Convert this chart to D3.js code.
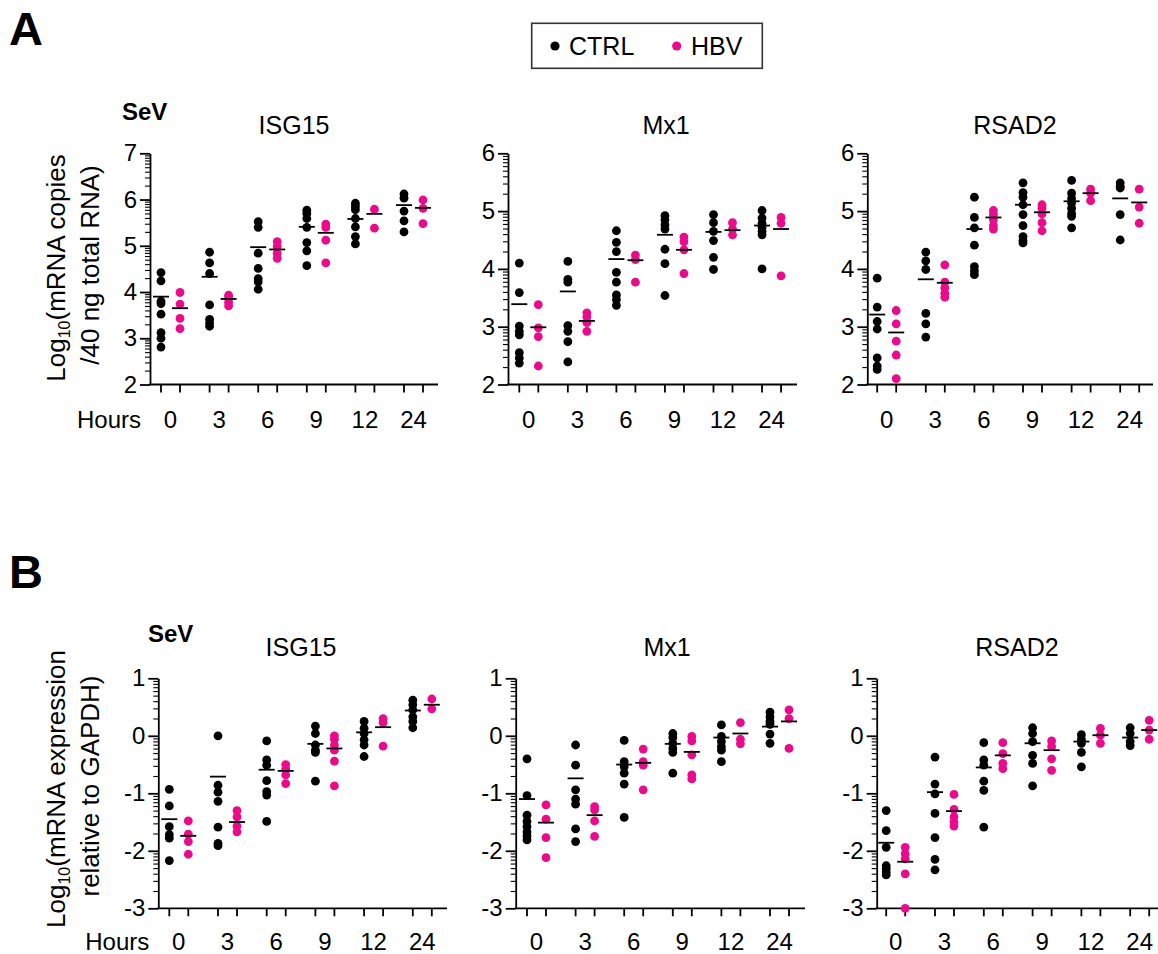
<!DOCTYPE html>
<html>
<head>
<meta charset="utf-8">
<script src="https://cdn.jsdelivr.net/npm/d3@7"></script>
<style>
  html, body { margin: 0; padding: 0; background: #fff; }
  svg { display: block; font-family: "Liberation Sans", Arial, sans-serif; }
</style>
</head>
<body>
<svg id="fig" width="1158" height="954"></svg>
<script>
// Time points (hours after SeV infection)
const hours = ["0", "3", "6", "9", "12", "24"];
const seriesNames = ["CTRL", "HBV"];

// ---- A: log10 mRNA copies / 40 ng total RNA ----
const aIsg15Ctrl = [
  [4.42, 4.24, 3.80, 3.75, 3.52, 3.12, 3.00, 2.81],
  [4.86, 4.63, 4.40, 3.72, 3.41, 3.33, 3.26],
  [5.52, 5.40, 4.84, 4.51, 4.29, 4.22, 4.06],
  [5.77, 5.70, 5.59, 5.40, 5.07, 4.89, 4.57],
  [5.92, 5.85, 5.78, 5.59, 5.41, 5.20, 5.04],
  [6.12, 6.03, 5.75, 5.54, 5.30]
];
const aIsg15Hbv = [
  [3.99, 3.74, 3.43, 3.21],
  [3.93, 3.88, 3.78, 3.70],
  [5.09, 4.98, 4.84, 4.73],
  [5.47, 5.40, 5.12, 4.63],
  [5.79, 5.38],
  [5.99, 5.81, 5.48]
];
const aIsg15CtrlMean = [3.90, 4.33, 4.97, 5.41, 5.58, 5.88];
const aIsg15HbvMean = [3.65, 3.85, 4.92, 5.28, 5.69, 5.82];

const aMx1Ctrl = [
  [4.10, 3.59, 3.01, 2.92, 2.86, 2.55, 2.46, 2.37],
  [4.13, 3.82, 3.77, 3.02, 2.92, 2.74, 2.39],
  [4.66, 4.46, 4.30, 3.94, 3.77, 3.55, 3.47, 3.37],
  [4.92, 4.85, 4.76, 4.69, 4.34, 4.09, 3.54],
  [4.94, 4.80, 4.65, 4.49, 4.20, 3.99],
  [5.01, 4.88, 4.79, 4.72, 4.65, 4.59, 4.00]
];
const aMx1Hbv = [
  [3.38, 2.98, 2.83, 2.32],
  [3.24, 3.17, 3.07, 2.92],
  [4.24, 4.16, 3.77],
  [4.55, 4.47, 4.33, 3.92],
  [4.80, 4.69, 4.59],
  [4.89, 4.79, 3.88]
];
const aMx1CtrlMean = [3.39, 3.61, 4.17, 4.59, 4.64, 4.75];
const aMx1HbvMean = [2.99, 3.10, 4.15, 4.33, 4.67, 4.69];

const aRsad2Ctrl = [
  [3.84, 3.34, 3.09, 2.96, 2.46, 2.32, 2.26],
  [4.29, 4.14, 3.99, 3.23, 3.05, 2.82],
  [5.24, 4.89, 4.71, 4.41, 4.04, 3.97, 3.90],
  [5.49, 5.32, 5.24, 5.11, 4.94, 4.75, 4.56, 4.49, 4.45],
  [5.53, 5.31, 5.22, 5.14, 5.05, 4.96, 4.91, 4.71],
  [5.49, 5.43, 5.40, 4.94, 4.50]
];
const aRsad2Hbv = [
  [3.28, 3.05, 2.75, 2.51, 2.10],
  [4.07, 3.77, 3.67, 3.58, 3.51],
  [5.01, 4.94, 4.85, 4.75, 4.69],
  [5.11, 5.05, 4.95, 4.80, 4.66],
  [5.38, 5.31, 5.18],
  [5.38, 5.07, 4.79]
];
const aRsad2CtrlMean = [3.21, 3.82, 4.69, 5.11, 5.17, 5.22];
const aRsad2HbvMean = [2.90, 3.76, 4.89, 4.98, 5.31, 5.15];

// ---- B: log10 mRNA expression relative to GAPDH ----
const bIsg15Ctrl = [
  [-0.93, -1.22, -1.58, -1.72, -1.78, -2.17],
  [0.00, -0.86, -0.98, -1.14, -1.59, -1.87, -1.91],
  [-0.09, -0.42, -0.51, -0.78, -0.97, -1.03, -1.49],
  [0.17, 0.04, -0.16, -0.25, -0.29, -0.79],
  [0.25, 0.13, 0.04, -0.07, -0.16, -0.36],
  [0.62, 0.54, 0.45, 0.33, 0.25, 0.14]
];
const bIsg15Hbv = [
  [-1.48, -1.71, -1.84, -2.06],
  [-1.30, -1.41, -1.57, -1.67],
  [-0.50, -0.58, -0.68, -0.83],
  [0.00, -0.06, -0.16, -0.25, -0.44, -0.87],
  [0.30, 0.23, -0.18],
  [0.64, 0.47]
];
const bIsg15CtrlMean = [-1.45, -0.71, -0.59, -0.14, 0.06, 0.44];
const bIsg15HbvMean = [-1.74, -1.50, -0.61, -0.22, 0.15, 0.54];

const bMx1Ctrl = [
  [-0.40, -1.04, -1.38, -1.49, -1.58, -1.67, -1.74, -1.81],
  [-0.16, -0.51, -0.94, -1.10, -1.19, -1.62, -1.84],
  [-0.08, -0.45, -0.54, -0.65, -0.84, -1.42],
  [0.04, -0.03, -0.13, -0.22, -0.29, -0.65],
  [0.19, -0.01, -0.10, -0.19, -0.25, -0.45],
  [0.41, 0.33, 0.25, 0.20, 0.03, -0.13]
];
const bMx1Hbv = [
  [-1.20, -1.45, -1.77, -2.12],
  [-1.23, -1.29, -1.48, -1.75],
  [-0.23, -0.45, -0.51, -0.94],
  [-0.01, -0.09, -0.33, -0.68, -0.75],
  [0.23, -0.06, -0.14],
  [0.45, 0.30, -0.22]
];
const bMx1CtrlMean = [-1.10, -0.74, -0.50, -0.14, -0.03, 0.16];
const bMx1HbvMean = [-1.51, -1.38, -0.47, -0.28, 0.04, 0.25];

const bRsad2Ctrl = [
  [-1.30, -1.65, -1.94, -2.26, -2.31, -2.37, -2.42],
  [-0.37, -0.84, -1.01, -1.35, -1.77, -2.15, -2.33],
  [-0.12, -0.42, -0.51, -0.79, -0.95, -1.59],
  [0.14, 0.04, -0.10, -0.34, -0.48, -0.87],
  [0.02, -0.06, -0.13, -0.29, -0.54],
  [0.14, 0.04, -0.10, -0.17]
];
const bRsad2Hbv = [
  [-1.94, -2.05, -2.14, -2.40, -3.00],
  [-1.02, -1.28, -1.41, -1.50, -1.57],
  [-0.12, -0.31, -0.48, -0.57],
  [-0.09, -0.19, -0.40, -0.60],
  [0.13, 0.01, -0.13],
  [0.27, 0.10, -0.06]
];
const bRsad2CtrlMean = [-1.86, -0.98, -0.55, -0.13, -0.10, -0.03];
const bRsad2HbvMean = [-2.19, -1.31, -0.34, -0.25, 0.01, 0.10];

const genes = ["ISG15", "Mx1", "RSAD2"];
const aDomains = [[2, 7], [2, 6], [2, 6]];
const bDomains = [[-3, 1], [-3, 1], [-3, 1]];

// ---- styling ----
const COLORS = { CTRL: "#000000", HBV: "#ec0a8c" };
const FONT = 24;
const TITLE_FONT = 25;
const YTITLE_FONT = 26;
const DOT_R = 4.4;
const AXIS_W = 1.8;

const svg = d3.select("#fig");

// Panel geometry (axis position, first group centre, group step, axis end, title centre)
const panels = [
  { row: "A", gi: 0, ctrl: aIsg15Ctrl, hbv: aIsg15Hbv, cm: aIsg15CtrlMean, hm: aIsg15HbvMean, dom: aDomains[0],
    ax: 150, first: 170.5, step: 48.6, end: 438, tx: 294, showHours: true },
  { row: "A", gi: 1, ctrl: aMx1Ctrl, hbv: aMx1Hbv, cm: aMx1CtrlMean, hm: aMx1HbvMean, dom: aDomains[1],
    ax: 508, first: 528.8, step: 48.55, end: 797, tx: 666, showHours: false },
  { row: "A", gi: 2, ctrl: aRsad2Ctrl, hbv: aRsad2Hbv, cm: aRsad2CtrlMean, hm: aRsad2HbvMean, dom: aDomains[2],
    ax: 867.3, first: 886.7, step: 48.6, end: 1153, tx: 1015, showHours: false },
  { row: "B", gi: 0, ctrl: bIsg15Ctrl, hbv: bIsg15Hbv, cm: bIsg15CtrlMean, hm: bIsg15HbvMean, dom: bDomains[0],
    ax: 158.3, first: 178.8, step: 48.7, end: 447, tx: 301, showHours: true },
  { row: "B", gi: 1, ctrl: bMx1Ctrl, hbv: bMx1Hbv, cm: bMx1CtrlMean, hm: bMx1HbvMean, dom: bDomains[1],
    ax: 515.7, first: 536.5, step: 48.6, end: 805, tx: 667, showHours: false },
  { row: "B", gi: 2, ctrl: bRsad2Ctrl, hbv: bRsad2Hbv, cm: bRsad2CtrlMean, hm: bRsad2HbvMean, dom: bDomains[2],
    ax: 876.7, first: 895.7, step: 48.8, end: 1165, tx: 1017, showHours: false }
];

const rows = {
  A: { top: 153.3, bottom: 384.5, titleY: 134, hoursY: 428 },
  B: { top: 678.3, bottom: 908.3, titleY: 656, hoursY: 950 }
};

const PAIR = 9.5; // half distance between CTRL and HBV columns

panels.forEach(p => {
  const r = rows[p.row];
  const y = d3.scaleLinear().domain(p.dom).range([r.bottom, r.top]);
  const x = d3.scalePoint().domain(hours).range([p.first, p.first + 5 * p.step]);
  const sx = d3.scaleOrdinal().domain(seriesNames).range([-PAIR, PAIR]);
  const g = svg.append("g");

  // y-axis: major ticks at integers, minor ticks at log10(2..9) inside each decade
  const majors = d3.range(p.dom[0], p.dom[1] + 1);
  const minors = [];
  for (let n = p.dom[0]; n < p.dom[1]; n++) {
    for (let k = 2; k <= 9; k++) minors.push(n + Math.log10(k));
  }
  const yMinor = g.append("g").attr("transform", `translate(${p.ax},0)`)
    .call(d3.axisLeft(y).tickValues(minors).tickSize(5).tickSizeOuter(0).tickFormat(""));
  yMinor.select(".domain").remove();
  yMinor.selectAll("line").attr("stroke", "#000").attr("stroke-width", 1.1);

  const yMajor = g.append("g").attr("transform", `translate(${p.ax},0)`)
    .call(d3.axisLeft(y).tickValues(majors).tickSize(10).tickSizeOuter(0).tickPadding(3)
      .tickFormat(d => String(d)));
  yMajor.select(".domain").attr("stroke", "#000").attr("stroke-width", AXIS_W);
  yMajor.selectAll(".tick line").attr("stroke", "#000").attr("stroke-width", AXIS_W);
  yMajor.selectAll(".tick text").attr("font-size", FONT).attr("fill", "#000")
    .attr("font-family", "Liberation Sans, Arial, sans-serif");

  // x-axis: a tick under each series column, hour label centred on the pair
  const xg = g.append("g");
  xg.append("line")
    .attr("x1", p.ax - AXIS_W / 2).attr("x2", p.end)
    .attr("y1", r.bottom).attr("y2", r.bottom)
    .attr("stroke", "#000").attr("stroke-width", AXIS_W);
  hours.forEach(h => {
    seriesNames.forEach(s => {
      xg.append("line")
        .attr("x1", x(h) + sx(s)).attr("x2", x(h) + sx(s))
        .attr("y1", r.bottom).attr("y2", r.bottom + 8)
        .attr("stroke", "#000").attr("stroke-width", AXIS_W);
    });
    xg.append("text")
      .attr("x", x(h)).attr("y", r.hoursY)
      .attr("text-anchor", "middle").attr("font-size", FONT).text(h);
  });
  if (p.showHours) {
    xg.append("text")
      .attr("x", p.ax - 9).attr("y", r.hoursY)
      .attr("text-anchor", "end").attr("font-size", FONT).text("Hours");
  }

  // dots
  const series = [
    { name: "CTRL", vals: p.ctrl, mean: p.cm },
    { name: "HBV", vals: p.hbv, mean: p.hm }
  ];
  series.forEach(s => {
    const pts = [];
    s.vals.forEach((arr, i) => arr.forEach(v => pts.push({ h: hours[i], v })));
    g.append("g").selectAll("circle").data(pts).join("circle")
      .attr("cx", d => x(d.h) + sx(s.name))
      .attr("cy", d => y(d.v))
      .attr("r", DOT_R)
      .attr("fill", COLORS[s.name]);
  });
  // mean bars
  series.forEach(s => {
    g.append("g").selectAll("line").data(s.mean.map((m, i) => ({ h: hours[i], m }))).join("line")
      .attr("x1", d => x(d.h) + sx(s.name) - 8)
      .attr("x2", d => x(d.h) + sx(s.name) + 8)
      .attr("y1", d => y(d.m)).attr("y2", d => y(d.m))
      .attr("stroke", "#000").attr("stroke-width", 1.8);
  });

  // gene title
  g.append("text").attr("x", p.tx).attr("y", r.titleY)
    .attr("text-anchor", "middle").attr("font-size", TITLE_FONT).text(genes[p.gi]);
});

// panel letters and SeV labels
svg.append("text").attr("x", 9).attr("y", 45).attr("font-size", 47).attr("font-weight", "bold").text("A");
svg.append("text").attr("x", 9).attr("y", 588).attr("font-size", 47).attr("font-weight", "bold").text("B");
svg.append("text").attr("x", 122).attr("y", 120).attr("font-size", 24).attr("font-weight", "bold").text("SeV");
svg.append("text").attr("x", 148).attr("y", 642).attr("font-size", 24).attr("font-weight", "bold").text("SeV");

// y-axis titles (two lines, rotated)
function yTitle(cx, cy, line1rest, line2) {
  const t1 = svg.append("text")
    .attr("transform", `translate(${cx},${cy}) rotate(-90)`)
    .attr("text-anchor", "middle").attr("font-size", YTITLE_FONT);
  t1.append("tspan").text("Log");
  t1.append("tspan").attr("font-size", 16).attr("dy", 5).text("10");
  t1.append("tspan").attr("dy", -5).text(line1rest);
  svg.append("text")
    .attr("transform", `translate(${cx + 34},${cy - 3}) rotate(-90)`)
    .attr("text-anchor", "middle").attr("font-size", YTITLE_FONT).text(line2);
}
yTitle(65, 268, "(mRNA copies", "/40 ng total RNA)");
yTitle(65, 789, "(mRNA expression", "relative to GAPDH)");

// legend
const lg = svg.append("g");
lg.append("rect").attr("x", 531.7).attr("y", 23.3).attr("width", 230.6).attr("height", 45)
  .attr("fill", "#fff").attr("stroke", "#333").attr("stroke-width", 1.6);
const legendItems = [
  { name: "CTRL", cx: 555, tx: 569 },
  { name: "HBV", cx: 676.7, tx: 691 }
];
legendItems.forEach(it => {
  lg.append("circle").attr("cx", it.cx).attr("cy", 46).attr("r", 4.6).attr("fill", COLORS[it.name]);
  lg.append("text").attr("x", it.tx).attr("y", 55).attr("font-size", 25).text(it.name);
});
</script>
</body>
</html>
